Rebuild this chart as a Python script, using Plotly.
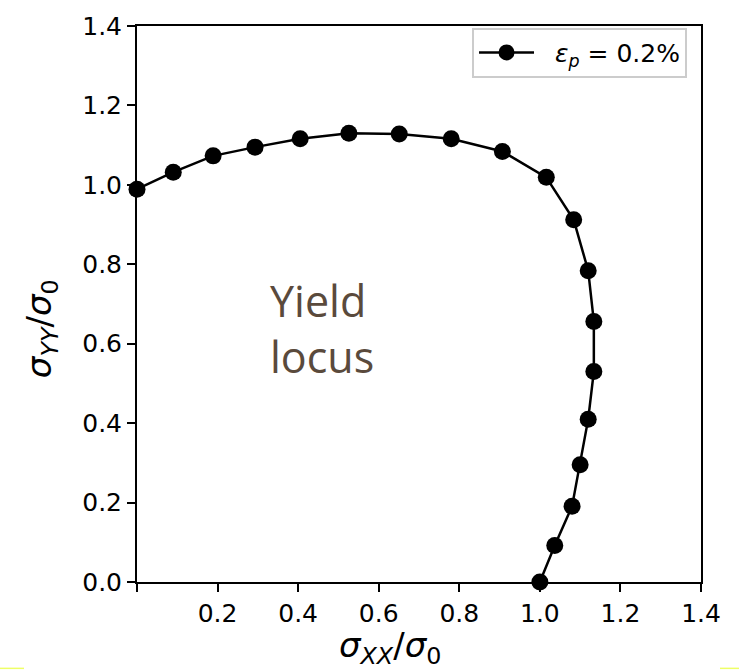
import plotly.graph_objects as go

# Normalised yield locus at 0.2 % plastic strain
sigma_xx = [0.0, 0.090, 0.189, 0.293, 0.405, 0.526, 0.651, 0.780, 0.907, 1.016,
            1.084, 1.120, 1.134, 1.134, 1.120, 1.100, 1.080, 1.037, 1.000]
sigma_yy = [0.989, 1.032, 1.073, 1.095, 1.116, 1.130, 1.128, 1.116, 1.084, 1.019,
            0.912, 0.784, 0.656, 0.530, 0.410, 0.295, 0.191, 0.092, 0.0]

tick_vals = [0.0, 0.2, 0.4, 0.6, 0.8, 1.0, 1.2, 1.4]
x_tick_text = ["", "0.2", "0.4", "0.6", "0.8", "1.0", "1.2", "1.4"]
y_tick_text = ["0.0", "0.2", "0.4", "0.6", "0.8", "1.0", "1.2", "1.4"]

series_name = "\u00a0\u00a0<i>ε</i><sub><i>p</i></sub> = 0.2%"
x_title = "<i>σ</i><sub><i>XX</i></sub>/<i>σ</i><sub>0</sub>"
y_title = "<i>σ</i><sub><i>YY</i></sub>/<i>σ</i><sub>0</sub>"

FONT = "DejaVu Sans"

fig = go.Figure()
fig.add_trace(go.Scatter(
    x=sigma_xx, y=sigma_yy, mode="lines+markers", name=series_name,
    line=dict(color="black", width=2.5),
    marker=dict(color="black", size=17),
    cliponaxis=False,
))

axis_common = dict(
    range=[0, 1.4], tickvals=tick_vals, showgrid=False, zeroline=False,
    showline=True, mirror=True, linecolor="black", linewidth=2,
    ticks="outside", ticklen=8, tickwidth=2, tickcolor="black",
    tickfont=dict(family=FONT, size=25, color="black"),
)

fig.update_layout(
    width=739, height=671,
    margin=dict(l=137, r=38, t=17, b=89),
    paper_bgcolor="white", plot_bgcolor="white",
    showlegend=True,
    legend=dict(
        x=0.594, y=0.997, xanchor="left", yanchor="top",
        bgcolor="white", bordercolor="#cccccc", borderwidth=2,
        itemwidth=55,
        font=dict(family=FONT, size=25, color="black"),
    ),
    xaxis=dict(**axis_common, ticktext=x_tick_text),
    yaxis=dict(**axis_common, ticktext=y_tick_text),
)

# Axis titles
title_font = dict(family=FONT, size=34, color="black")
fig.add_annotation(xref="paper", yref="paper", x=0.449, y=-0.117,
                   text=x_title, showarrow=False, xanchor="center",
                   yanchor="middle", font=title_font)
fig.add_annotation(xref="paper", yref="paper", x=-0.170, y=0.455,
                   text=y_title, showarrow=False, textangle=-90,
                   xanchor="center", yanchor="middle", font=title_font)

# Region label inside the locus
label_font = dict(family="Open Sans", size=43, color="#5a4a3c")
fig.add_annotation(x=0.325, y=0.638, text="Yield<br>locus", showarrow=False,
                   xanchor="left", yanchor="middle", align="left",
                   font=label_font)

# Thin highlight strips along the bottom edge
fig.add_shape(type="rect", xref="paper", yref="paper",
              x0=-137 / 564, x1=-113 / 564, y0=-88.5 / 565, y1=-87 / 565,
              line=dict(width=0), fillcolor="#eeff66")
fig.add_shape(type="rect", xref="paper", yref="paper",
              x0=583 / 564, x1=602 / 564, y0=-88.5 / 565, y1=-87 / 565,
              line=dict(width=0), fillcolor="#eeff66")

fig.write_html("out.html")
